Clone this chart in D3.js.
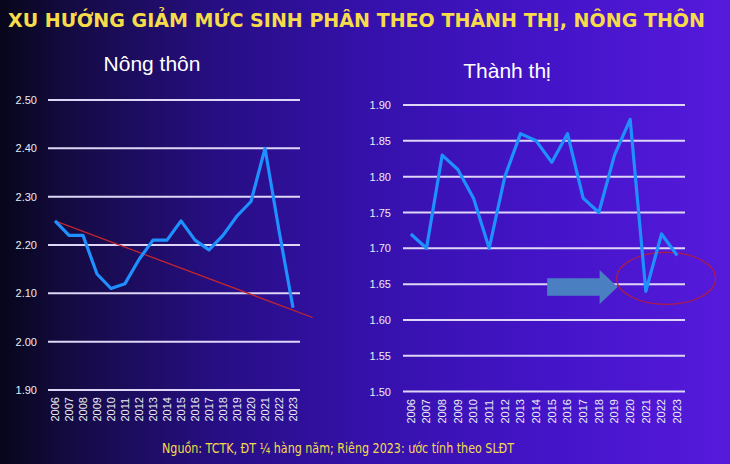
<!DOCTYPE html>
<html>
<head>
<meta charset="utf-8">
<script src="https://cdn.jsdelivr.net/npm/d3@7"></script>
<style>
  html, body { margin: 0; padding: 0; background: #0a0820; }
  svg { display: block; }
</style>
</head>
<body>
<svg id="chart" width="730" height="464"></svg>
<script>
// ---- DATA ----
const years = ["2006","2007","2008","2009","2010","2011","2012","2013","2014","2015","2016","2017","2018","2019","2020","2021","2022","2023"];
const ruralValues = [2.25,2.22,2.22,2.14,2.11,2.12,2.17,2.21,2.21,2.25,2.21,2.19,2.22,2.26,2.29,2.40,2.23,2.07];
const urbanValues = [1.72,1.70,1.83,1.81,1.77,1.70,1.80,1.86,1.85,1.82,1.86,1.77,1.75,1.83,1.88,1.64,1.72,1.69];
const ruralTicks = [1.90,2.00,2.10,2.20,2.30,2.40,2.50];
const urbanTicks = [1.50,1.55,1.60,1.65,1.70,1.75,1.80,1.85,1.90];
// trend line (year index, value)
const ruralTrend = [[0, 2.25],[18.4, 2.05]];
// annotations in data units (year index, value)
const urbanArrow = {from: 8.7, to: 13.2, value: 1.646};
const urbanEllipse = {idx: 16.3, value: 1.658};

const titleText = "XU HƯỚNG GIẢM MỨC SINH PHÂN THEO THÀNH THỊ, NÔNG THÔN";
const ruralTitle = "Nông thôn";
const urbanTitle = "Thành thị";
const sourceText = "Nguồn: TCTK, ĐT ¼ hàng năm; Riêng 2023: ước tính theo SLĐT";

// ---- DRAW ----
const svg = d3.select("#chart");
const defs = svg.append("defs");
const grad = defs.append("linearGradient").attr("id","bg").attr("x1","0").attr("x2","1").attr("y1","0").attr("y2","0");
[["0%","#07061a"],["10%","#150b44"],["30%","#270e84"],["50%","#3511aa"],["75%","#4414c8"],["100%","#561adc"]]
  .forEach(([o,c]) => grad.append("stop").attr("offset",o).attr("stop-color",c));
svg.append("rect").attr("width",730).attr("height",464).attr("fill","url(#bg)");

const condensed = "'DejaVu Sans Condensed','Liberation Sans Narrow','Roboto Condensed',sans-serif";
const sans = "'Liberation Sans', Arial, sans-serif";

svg.append("text").attr("x",8).attr("y",27)
  .attr("font-family",condensed).attr("font-weight","bold").attr("font-size",19)
  .attr("textLength",697).attr("lengthAdjust","spacingAndGlyphs")
  .attr("fill","#f7dc4a").text(titleText);

svg.append("text").attr("x",162).attr("y",452.5)
  .attr("font-family",condensed).attr("font-size",14.5)
  .attr("textLength",352).attr("lengthAdjust","spacingAndGlyphs")
  .attr("fill","#f2dc4c").text(sourceText);

function panel(cfg) {
  const g = svg.append("g");
  const x = d3.scaleBand().domain(years).range([cfg.x0, cfg.x1]).padding(0);
  const bw = x.bandwidth();
  const cx = d => x(d) + bw/2;
  const cxIdx = i => x(years[0]) + bw/2 + i*bw;
  const y = d3.scaleLinear().domain(cfg.domain).range([cfg.yBottom, cfg.yTop]);

  // grid
  g.selectAll(".grid").data(cfg.ticks).join("line")
    .attr("x1",cfg.x0).attr("x2",cfg.x1)
    .attr("y1",d=>y(d)).attr("y2",d=>y(d))
    .attr("stroke","#ded6f6").attr("stroke-width",2);

  // y labels
  const yAxis = d3.axisLeft(y).tickValues(cfg.ticks).tickFormat(d3.format(".2f")).tickSize(0).tickPadding(0);
  const ya = g.append("g").attr("transform",`translate(${cfg.labelX},0)`).call(yAxis);
  ya.select(".domain").remove();
  ya.selectAll("text").attr("font-family",sans).attr("font-size",11).attr("fill","#ececf4");

  // x labels (rotated)
  const xAxis = d3.axisBottom(x).tickSize(0).tickPadding(0);
  const xa = g.append("g").attr("transform",`translate(0,${cfg.yearY})`).call(xAxis);
  xa.select(".domain").remove();
  xa.selectAll(".tick text")
    .attr("font-family",sans).attr("font-size",11).attr("fill","#ececf4")
    .attr("transform","rotate(-90)").attr("x",-24.5).attr("y",0).attr("dy","0.35em")
    .attr("text-anchor","start");

  if (cfg.trend) {
    g.append("line")
      .attr("x1",cxIdx(cfg.trend[0][0])).attr("y1",y(cfg.trend[0][1]))
      .attr("x2",cxIdx(cfg.trend[1][0])).attr("y2",y(cfg.trend[1][1]))
      .attr("stroke","#c2262c").attr("stroke-width",1.3);
  }
  if (cfg.arrow) {
    const a = cfg.arrow;
    const xa0 = cxIdx(a.from), xa1 = cxIdx(a.to), ya0 = y(a.value);
    const headW = 18, sh = 8.7, hh = 17;
    const pts = [[xa0,ya0-sh],[xa1-headW,ya0-sh],[xa1-headW,ya0-hh],[xa1,ya0],[xa1-headW,ya0+hh],[xa1-headW,ya0+sh],[xa0,ya0+sh]];
    g.append("polygon").attr("points",pts.map(p=>p.join(",")).join(" "))
      .attr("fill","#4a7fc2");
  }
  if (cfg.ellipse) {
    g.append("ellipse").attr("cx",cxIdx(cfg.ellipse.idx)).attr("cy",y(cfg.ellipse.value))
      .attr("rx",49.5).attr("ry",26)
      .attr("fill","none").attr("stroke","#b01c40").attr("stroke-width",1.2);
  }

  const line = d3.line().x((d,i)=>cx(years[i])).y(d=>y(d));
  g.append("path").datum(cfg.values).attr("d",line)
    .attr("fill","none").attr("stroke","#1e90ff").attr("stroke-width",3.2)
    .attr("stroke-linejoin","round");

  svg.append("text").attr("x",cfg.titleX).attr("y",cfg.titleY)
    .attr("text-anchor","middle").attr("font-family",sans).attr("font-size",21)
    .attr("fill","#ffffff").text(cfg.title);
}

panel({x0:48, x1:300, domain:[1.9,2.5], yBottom:390, yTop:100, ticks:ruralTicks,
  labelX:37, yearY:397, values:ruralValues, trend:ruralTrend,
  title:ruralTitle, titleX:152, titleY:71});

panel({x0:403, x1:685, domain:[1.5,1.9], yBottom:391.6, yTop:105, ticks:urbanTicks,
  labelX:391, yearY:399, values:urbanValues, arrow:urbanArrow, ellipse:urbanEllipse,
  title:urbanTitle, titleX:507, titleY:78});
</script>
</body>
</html>
